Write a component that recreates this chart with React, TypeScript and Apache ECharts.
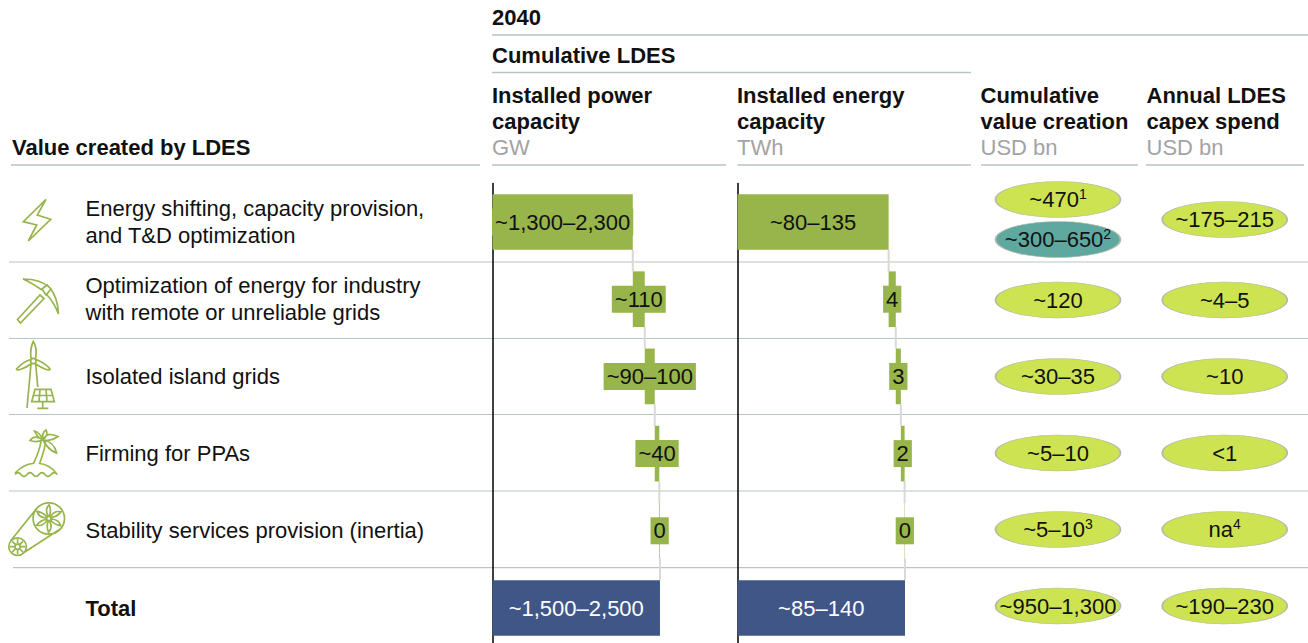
import React, { useEffect, useRef } from "react";
import * as echarts from "echarts";

const rowLabels = [
  "Energy shifting, capacity provision,\nand T&D optimization",
  "Optimization of energy for industry\nwith remote or unreliable grids",
  "Isolated island grids",
  "Firming for PPAs",
  "Stability services provision (inertia)",
  "{b|Total}",
];
const powerValues = [1290, 110, 92, 42, 6];
const powerLabels = ["~1,300–2,300", "~110", "~90–100", "~40", "0", "~1,500–2,500"];
const energyValues = [80.3, 3.8, 2.7, 2.0, 0.2];
const energyLabels = ["~80–135", "4", "3", "2", "0", "~85–140"];
const valueCreation = ["~470", "~300–650", "~120", "~30–35", "~5–10", "~5–10", "~950–1,300"];
const valueNotes = ["1", "2", "", "", "", "3", ""];
const valueRows = [0, 0, 1, 2, 3, 4, 5];
const capexSpend = ["~175–215", "~4–5", "~10", "<1", "na", "~190–230"];
const capexNotes = ["", "", "", "", "4", ""];
const capexRows = [0, 1, 2, 3, 4, 5];

const FONT = "'Liberation Sans', Arial, sans-serif";
const FS = 22;
const GREEN = "#97B54B";
const NAVY = "#3F5686";
const LIME = "#CDE352";
const TEAL = "#5FA8A0";
const INK = "#111111";
const GRAY = "#A3A3A3";
const RULE = "#B7C6C3";
const BAR_H = 55.7;
const ROW_H = 77.2;

const circle = (cx: number, cy: number, r: number) =>
  `M${cx + r},${cy} a${r},${r} 0 1 0 ${-2 * r},0 a${r},${r} 0 1 0 ${2 * r},0 `;

const fan = (cx: number, cy: number, r0: number, r1: number) => {
  let d = "";
  for (let k = 0; k < 6; k++) {
    const t = (k * Math.PI) / 3 + 0.2;
    const p = (r: number, a: number) => `${(cx + r * Math.cos(a)).toFixed(1)},${(cy + r * Math.sin(a)).toFixed(1)}`;
    d += `M${p(r0, t)} Q${p(r1 * 0.75, t - 0.1)} ${p(r1, t + 0.35)} Q${p(r1 * 0.6, t + 0.65)} ${p(r0, t + 0.5)} `;
  }
  return d;
};

const spokes = (cx: number, cy: number, r0: number, r1: number) => {
  let d = "";
  for (let k = 0; k < 8; k++) {
    const t = (k * Math.PI) / 4;
    d += `M${(cx + r0 * Math.cos(t)).toFixed(1)},${(cy + r0 * Math.sin(t)).toFixed(1)} L${(cx + r1 * Math.cos(t)).toFixed(1)},${(cy + r1 * Math.sin(t)).toFixed(1)} `;
  }
  return d;
};

const ICONS: Record<string, string> = {
  iconBolt: "M46,199.3 L37.3,215 L50.7,219.3 L28.3,241 L36.7,225 L23.3,221.7 Z",
  iconPick:
    "M23,279 C33,279 44,282 50,288 C55,294 58,304 58.5,314 C55,305 51,299 47,295 M42,290 C36,286 30,282 23,279 " +
    "M42,289 L47,285 L51,289 L46,295 Z M17.5,319.5 L40,295 L44,298.5 L20.5,323 Z",
  iconTurbine:
    "M31,358.5 C30,350 32,344 33.3,341.5 C35,344 37,350 35.6,358.5 " +
    "M30.8,359.5 C26,361 20,365 16.5,369 C16,371.5 24,369 31.5,363.5 " +
    "M36,359.5 C40,361 47,365 50,369 C50.5,371.5 43,369 35,363.5 " +
    circle(33.3, 361, 2.7) +
    "M31,364 L27,408 M35.7,364 L37.8,387 " +
    "M35,389.3 L51,389.3 L54.3,401.7 L31.7,401.7 Z M33.5,395.5 L52.7,395.5 M40,389.3 L39,401.7 M46,389.3 L47,401.7 " +
    "M42.7,401.7 L42.7,408 M37.3,408.3 L48.3,408.3",
  iconPalm:
    "M15,473 C20,468 26,464 33,463.5 M39.5,463.5 C46,464 52,468 56,473 " +
    "M15,474.5 C17,472 19,472 21,474.5 C23,477 25,477 27,474.5 C29,472 31,472 33,474.5 C35,477 37,477 39,474.5 C41,472 43,472 45,474.5 C47,477 49,477 51,474.5 C53,472 55,472 57.5,474.5 " +
    "M33.3,464 C36,458 40,450 41,441 M39.5,464 C42,456 45,450 45.5,441 " +
    "M43,440 C38,436 33,436 30,440.5 C34,442 38,442 43,440 " +
    "M43,440 C41,435 38,432 34.5,431 C36,435 39,438 43,440 " +
    "M43,440 C46,434 50,433 58,436.5 C53,440 48,441 43,440 " +
    "M43,440 C50,441 55,446 56.5,453 C51,451 46,446 43,440 " +
    "M43,440 C42,436 43,432 46,430 C48,433 46,437 43,440",
  iconBelt:
    circle(48.8, 518.5, 15.7) + circle(48.8, 518.5, 2.2) + fan(48.8, 518.5, 2.6, 13.8) +
    circle(17.6, 546.7, 8.8) + circle(17.6, 546.7, 2.6) + spokes(17.6, 546.7, 2.6, 7.6) +
    "M37,508 L10.5,541 M61,528.5 L24,552.5",
};
Object.entries(ICONS).forEach(([name, d]) => {
  echarts.graphic.registerShape(name, echarts.graphic.extendPath(d, {}));
});

const hRule = (x1: number, x2: number, y: number, lineWidth = 1.5, stroke = RULE) => ({
  type: "line",
  silent: true,
  shape: { x1, y1: y, x2, y2: y },
  style: { stroke, lineWidth },
});
const head = (x: number, y: number, text: string, bold = true, fill = INK) => ({
  type: "text",
  silent: true,
  x,
  y,
  style: {
    text,
    fill,
    font: `${bold ? "bold " : ""}${FS}px ${FONT}`,
    textAlign: "left",
    textVerticalAlign: "middle",
  },
});
const icon = (type: string) => ({
  type,
  silent: true,
  x: 0,
  y: 0,
  style: { fill: "none", stroke: GREEN, lineWidth: 1.7 },
});

function waterfall(values: number[], labels: string[], axis: number) {
  const total = values.reduce((a, b) => a + b, 0);
  const ends: number[] = [];
  values.reduce((a, b) => {
    ends.push(a + b);
    return a + b;
  }, 0);
  const base = [0, ...ends.slice(0, -1), 0];
  const shown = [...values, total];
  return [
    {
      type: "custom",
      xAxisIndex: axis,
      yAxisIndex: axis,
      z: 1,
      silent: true,
      encode: { x: 0, y: 1 },
      data: ends.map((e, i) => [e, i]),
      clip: false,
      renderItem: (_: any, api: any) => {
        const [x, y] = api.coord([api.value(0), api.value(1)]);
        const h = api.size([0, 1])[1];
        return {
          type: "line",
          shape: { x1: x, y1: y + BAR_H / 2, x2: x, y2: y + h - BAR_H / 2 },
          style: { stroke: "#D9D9D9", lineWidth: 2 },
        };
      },
    },
    {
      type: "bar",
      stack: `s${axis}`,
      xAxisIndex: axis,
      yAxisIndex: axis,
      barWidth: BAR_H,
      silent: true,
      itemStyle: { color: "transparent" },
      data: base,
    },
    {
      type: "bar",
      stack: `s${axis}`,
      xAxisIndex: axis,
      yAxisIndex: axis,
      barWidth: BAR_H,
      silent: true,
      z: 3,
      data: shown.map((v, i) => {
        const color = i === shown.length - 1 ? NAVY : GREEN;
        return {
          value: v,
          itemStyle: { color },
          label: {
            show: true,
            position: "inside",
            formatter: labels[i],
            color: i === shown.length - 1 ? "#FFFFFF" : INK,
            fontFamily: FONT,
            fontSize: FS,
            lineHeight: 27,
            backgroundColor: color,
            padding: [0, 3],
          },
        };
      }),
    },
  ];
}

const noAxisX = (gridIndex: number, max: number) => ({
  type: "value",
  gridIndex,
  min: 0,
  max,
  show: false,
});

const pill = (label: string, note: string, column: number, row: number, offset: number, color: string) => ({
  value: [column, row],
  symbolOffset: [0, offset],
  itemStyle: { color, opacity: 1, borderColor: "#B3BCA8", borderWidth: 1 },
  label: { formatter: note ? `{n|${label}}{s|${note}}` : `{n|${label}}` },
});

export default function App() {
  const ref = useRef<HTMLDivElement>(null);
  useEffect(() => {
    const chart = echarts.init(ref.current!, undefined, { renderer: "svg" });
    const firstRowOffsets = [-24, 16];
    const pills = [
      ...valueCreation.map((t, i) =>
        pill(t, valueNotes[i], 0, valueRows[i], i < 2 ? firstRowOffsets[i] : 0, i === 1 ? TEAL : LIME),
      ),
      ...capexSpend.map((t, i) => pill(t, capexNotes[i], 1, capexRows[i], i === 0 ? -4 : 0, LIME)),
    ];
    chart.setOption({
      animation: false,
      textStyle: { fontFamily: FONT },
      graphic: [
        hRule(492, 1308, 35),
        hRule(492, 971, 72.5),
        hRule(11, 480, 165),
        hRule(492, 726, 165),
        hRule(737.5, 971, 165),
        hRule(981, 1138, 165),
        hRule(1146, 1304, 165),
        hRule(9, 1308, 262, 1.5, "#CFD8D6"),
        hRule(9, 1308, 338.5, 1.2),
        hRule(9, 1308, 414.5, 1.2),
        hRule(9, 1308, 491, 1.5, "#CFD8D6"),
        hRule(13, 1308, 567.7, 1.2),
        head(492, 17.5, "2040"),
        head(492, 55, "Cumulative LDES"),
        head(12, 147.5, "Value created by LDES"),
        head(492, 95.5, "Installed power"),
        head(492, 121.5, "capacity"),
        head(492, 147.5, "GW", false, GRAY),
        head(737, 95.5, "Installed energy"),
        head(737, 121.5, "capacity"),
        head(737, 147.5, "TWh", false, GRAY),
        head(980.5, 95.5, "Cumulative"),
        head(980.5, 121.5, "value creation"),
        head(980.5, 147.5, "USD bn", false, GRAY),
        head(1146.5, 95.5, "Annual LDES"),
        head(1146.5, 121.5, "capex spend"),
        head(1146.5, 147.5, "USD bn", false, GRAY),
        ...Object.keys(ICONS).map(icon),
      ],
      grid: [
        { left: 492.5, top: 183.4, width: 217.5, height: ROW_H * 6, outerBoundsMode: "none" },
        { left: 737.5, top: 183.4, width: 188.2, height: ROW_H * 6, outerBoundsMode: "none" },
        { left: 974.65, top: 185.25, width: 333.4, height: 459, outerBoundsMode: "none" },
      ],
      xAxis: [
        noAxisX(0, 2000),
        noAxisX(1, 100),
        { type: "category", gridIndex: 2, data: ["Cumulative value creation", "Annual LDES capex spend"], show: false },
      ],
      yAxis: [
        {
          type: "category",
          gridIndex: 0,
          inverse: true,
          data: rowLabels,
          axisTick: { show: false },
          axisLine: { lineStyle: { color: "#000", width: 1.5 } },
          axisLabel: {
            interval: 0,
            align: "left",
            margin: 407,
            color: INK,
            fontFamily: FONT,
            fontSize: FS,
            lineHeight: 27,
            rich: { b: { fontWeight: "bold", fontFamily: FONT, fontSize: FS, color: INK } },
          },
        },
        {
          type: "category",
          gridIndex: 1,
          inverse: true,
          data: rowLabels,
          axisTick: { show: false },
          axisLine: { lineStyle: { color: "#000", width: 1.5 } },
          axisLabel: { show: false },
        },
        {
          type: "category",
          gridIndex: 2,
          inverse: true,
          data: rowLabels,
          show: false,
        },
      ],
      series: [
        ...waterfall(powerValues, powerLabels, 0),
        ...waterfall(energyValues, energyLabels, 1),
        {
          type: "scatter",
          xAxisIndex: 2,
          yAxisIndex: 2,
          silent: true,
          symbol: "circle",
          symbolSize: [125, 36],
          label: {
            show: true,
            position: "inside",
            color: INK,
            rich: {
              n: { fontFamily: FONT, fontSize: FS, color: INK, lineHeight: 26 },
              s: { fontFamily: FONT, fontSize: 14, color: INK, verticalAlign: "top", lineHeight: 26 },
            },
          },
          data: pills,
        },
      ],
    });
    return () => chart.dispose();
  }, []);
  return <div ref={ref} style={{ position: "absolute", left: 0, top: 0, width: 1308, height: 643 }} />;
}
